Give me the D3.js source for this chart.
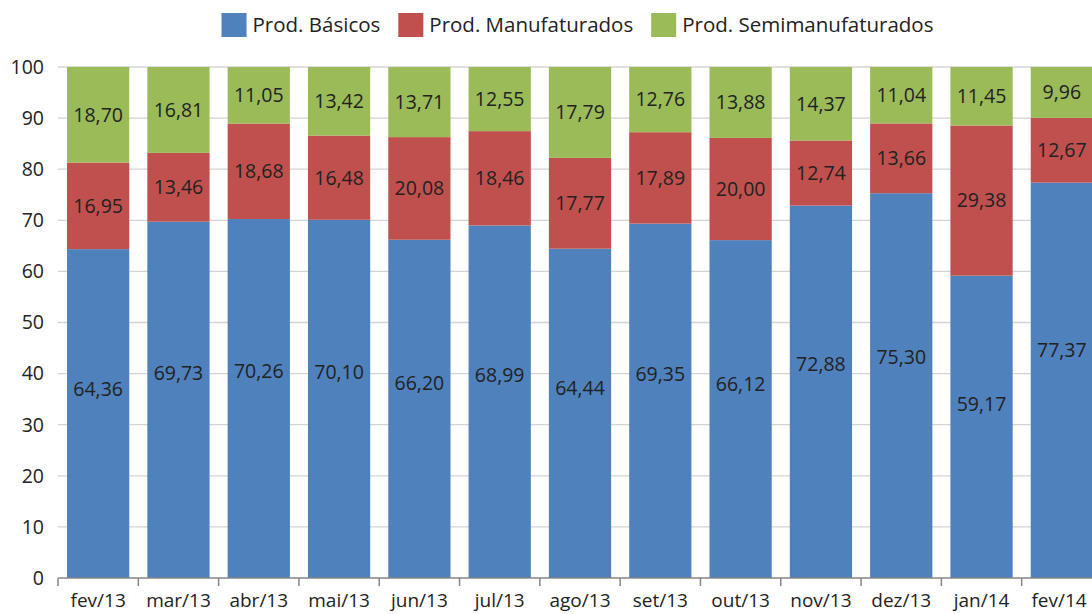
<!DOCTYPE html>
<html>
<head>
<meta charset="utf-8">
<script src="https://cdn.jsdelivr.net/npm/d3@7"></script>
<style>
  body { margin: 0; background: #fff; }
  svg { display: block; font-family: "Open Sans", sans-serif; }
</style>
</head>
<body>
<div id="chart"></div>
<script>
const months = ['fev/13','mar/13','abr/13','mai/13','jun/13','jul/13','ago/13','set/13','out/13','nov/13','dez/13','jan/14','fev/14']
const basicos = [64.36, 69.73, 70.26, 70.10, 66.20, 68.99, 64.44, 69.35, 66.12, 72.88, 75.30, 59.17, 77.37]
const manufaturados = [16.95, 13.46, 18.68, 16.48, 20.08, 18.46, 17.77, 17.89, 20.00, 12.74, 13.66, 29.38, 12.67]
const semimanufaturados = [18.70, 16.81, 11.05, 13.42, 13.71, 12.55, 17.79, 12.76, 13.88, 14.37, 11.04, 11.45, 9.96]
const seriesNames = ['Prod. Básicos', 'Prod. Manufaturados', 'Prod. Semimanufaturados']
const yTicks = [0, 10, 20, 30, 40, 50, 60, 70, 80, 90, 100]

const colors = ['#4F81BD', '#C0504D', '#9BBB59']
// where the label sits inside its segment (fraction of segment height from bottom)
const labelFrac = [0.575, 0.5, 0.5]

const W = 1092, H = 614
const plot = { left: 58, right: 1102, top: 67, bottom: 578 }
const fontSize = 19.5

const svg = d3.select('#chart').append('svg')
  .attr('width', W).attr('height', H)

const rows = months.map((m, i) => ({ month: m, s0: basicos[i], s1: manufaturados[i], s2: semimanufaturados[i] }))
const stack = d3.stack().keys(['s0', 's1', 's2'])(rows)

const x = d3.scaleBand().domain(months).range([plot.left, plot.right])
  .paddingInner(0.225).paddingOuter(0.1125)
const xAxisScale = d3.scaleBand().domain(months).range([plot.left, plot.right])
const y = d3.scaleLinear().domain([0, 100]).range([plot.bottom, plot.top])

// grid
svg.append('g')
  .selectAll('line')
  .data(yTicks.filter(d => d > 0))
  .enter()
  .append('line')
  .attr('x1', plot.left).attr('x2', W)
  .attr('y1', d => y(d)).attr('y2', d => y(d))
  .attr('stroke', '#d4d4d4').attr('stroke-width', 1.3)

// y labels
svg.append('g')
  .selectAll('text')
  .data(yTicks)
  .enter()
  .append('text')
  .attr('x', 44).attr('y', d => y(d))
  .attr('dy', '0.35em')
  .attr('text-anchor', 'end')
  .attr('font-size', fontSize)
  .attr('fill', '#222')
  .text(d => d)

// bars
const layers = svg.append('g')
  .selectAll('g')
  .data(stack)
  .enter()
  .append('g')
  .attr('fill', (d, i) => colors[i])

layers.selectAll('rect')
  .data(d => d)
  .enter()
  .append('rect')
  .attr('x', d => x(d.data.month))
  .attr('width', x.bandwidth())
  .attr('y', d => y(d[1]))
  .attr('height', d => y(d[0]) - y(d[1]))

// data labels
stack.forEach((layer, si) => {
  svg.append('g')
    .selectAll('text')
    .data(layer)
    .enter()
    .append('text')
    .attr('x', d => x(d.data.month) + x.bandwidth() / 2)
    .attr('y', d => y(d[0] + (d[1] - d[0]) * labelFrac[si]))
    .attr('dy', '0.35em')
    .attr('text-anchor', 'middle')
    .attr('font-size', fontSize)
    .attr('fill', '#222')
    .text(d => (d[1] - d[0]).toFixed(2).replace('.', ','))
})

// x axis
const xAxis = svg.append('g')
xAxis.append('line')
  .attr('x1', plot.left).attr('x2', W)
  .attr('y1', plot.bottom).attr('y2', plot.bottom)
  .attr('stroke', '#868686').attr('stroke-width', 1.5)
xAxis.selectAll('.tick')
  .data(months)
  .enter()
  .append('line')
  .attr('x1', d => xAxisScale(d)).attr('x2', d => xAxisScale(d))
  .attr('y1', plot.bottom).attr('y2', plot.bottom + 8)
  .attr('stroke', '#868686').attr('stroke-width', 1.5)
xAxis.selectAll('text')
  .data(months)
  .enter()
  .append('text')
  .attr('x', d => Math.min(xAxisScale(d) + xAxisScale.bandwidth() / 2, 1059))
  .attr('y', 607)
  .attr('text-anchor', 'middle')
  .attr('font-size', 19)
  .attr('fill', '#222')
  .text(d => d)

// legend
const legend = svg.append('g')
let lx = 0
seriesNames.forEach((name, i) => {
  const item = legend.append('g').attr('transform', `translate(${lx},0)`)
  item.append('rect')
    .attr('x', 0).attr('y', 13).attr('width', 25).attr('height', 24)
    .attr('fill', colors[i])
  const t = item.append('text')
    .attr('x', 31).attr('y', 25)
    .attr('dy', '0.35em')
    .attr('font-size', 20.5)
    .attr('fill', '#222')
    .text(name)
  lx += 31 + t.node().getComputedTextLength() + 18
})
const legendWidth = lx - 18
legend.attr('transform', `translate(${577.5 - legendWidth / 2},0)`)
</script>
</body>
</html>
